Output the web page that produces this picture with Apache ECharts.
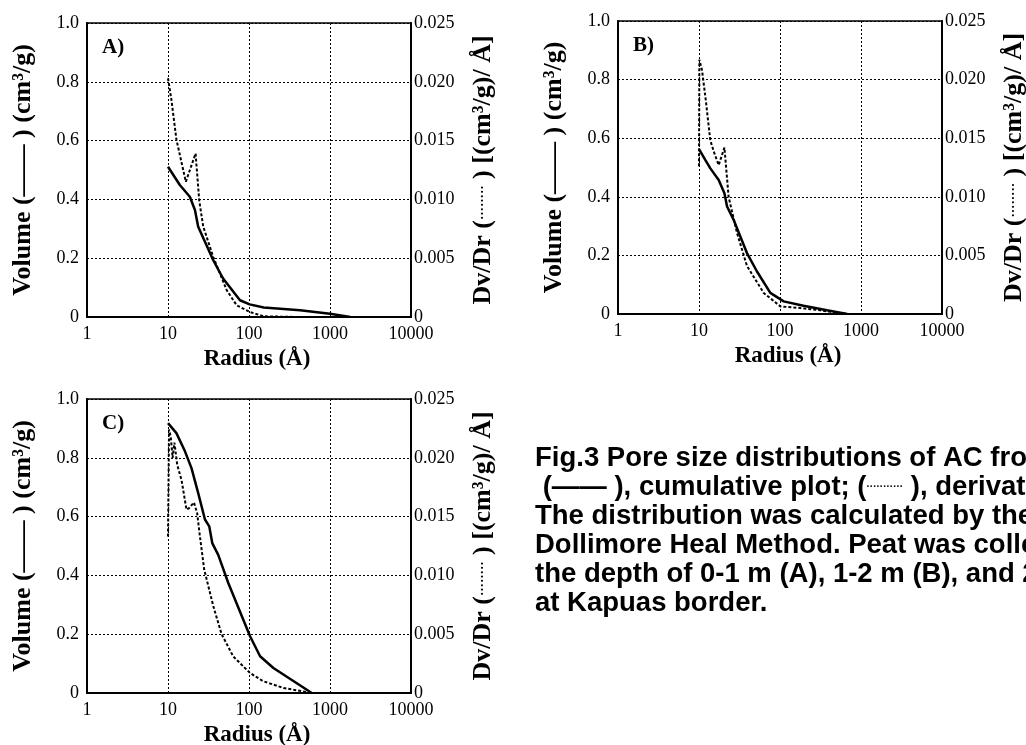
<!DOCTYPE html>
<html>
<head>
<meta charset="utf-8">
<script src="https://cdn.jsdelivr.net/npm/echarts@6/dist/echarts.min.js"></script>
<style>
html,body{margin:0;padding:0;background:#fff;}
#chart{width:1026px;height:745px;}
</style>
</head>
<body>
<div id="chart"></div>
<script>
// ---- Data (radius in Å, volume in cm3/g, derivative in (cm3/g)/Å) ----
const radiusVolA = [10, 14.0, 18.6, 21.5, 23.6, 36.2, 47.9, 77.4, 102, 152, 427, 1000, 1780];
const volumeA    = [0.511, 0.449, 0.409, 0.364, 0.307, 0.193, 0.131, 0.057, 0.043, 0.032, 0.023, 0.011, 0];
const radiusDerA = [10, 11.0, 12.7, 16.6, 21.9, 24.3, 27.2, 36.2, 52.9, 70.3, 102, 152, 400, 1000];
const derivA     = [0.0203, 0.0185, 0.0151, 0.0115, 0.0139, 0.0099, 0.0077, 0.0051, 0.0023, 0.0010, 0.00043, 0.00006, 0, 0];

const radiusVolB = [10, 12.0, 13.8, 17.5, 20.6, 22.2, 26.8, 39.1, 52.0, 76.0, 111, 195, 380, 675];
const volumeB    = [0.563, 0.525, 0.497, 0.457, 0.412, 0.367, 0.321, 0.208, 0.145, 0.072, 0.043, 0.028, 0.0125, 0];
const radiusDerB = [10, 10.1, 10.9, 12.1, 13.8, 15.5, 17.5, 20.6, 23.2, 29.5, 39.1, 62.9, 101, 178, 316, 675];
const derivB     = [0.0126, 0.0217, 0.0208, 0.0183, 0.0148, 0.0137, 0.0127, 0.0142, 0.0100, 0.0069, 0.0041, 0.0018, 0.00065, 0.00051, 0.00031, 0];

const radiusVolC = [10, 12.7, 16.2, 19.5, 23.6, 28.6, 32.3, 35.2, 41.7, 55.5, 103, 137, 200, 596];
const volumeC    = [0.918, 0.884, 0.822, 0.765, 0.680, 0.590, 0.567, 0.510, 0.470, 0.374, 0.193, 0.125, 0.085, 0];
const radiusDerC = [10, 10.3, 10.8, 11.4, 12.0, 13.0, 14.7, 16.9, 18.1, 20.9, 22.9, 24.8, 28.0, 36.2, 45.9, 64.0, 103, 150, 266, 596];
const derivC     = [0.0133, 0.0224, 0.0218, 0.0200, 0.0213, 0.0194, 0.0181, 0.0156, 0.0157, 0.0162, 0.0153, 0.0133, 0.0105, 0.0074, 0.0050, 0.0031, 0.0017, 0.0010, 0.00043, 0];

const xTicks = [1, 10, 100, 1000, 10000];
const panelLabels = ['A)', 'B)', 'C)'];
const leftAxisName = 'Volume (\u2014\u2014 ) (cm\u00B3/g)';
const rightAxisName = 'Dv/Dr ({s|\u00B7\u00B7\u00B7\u00B7\u00B7\u00B7\u00B7\u00B7} ) [(cm\u00B3/g)/ \u00C5]';
const xAxisName = 'Radius (\u00C5)';
const captionLines = [
  'Fig.3 Pore size distributions of AC from peat',
  ' (\u2014\u2014 ), cumulative plot; ({s|\u00B7\u00B7\u00B7\u00B7\u00B7\u00B7\u00B7\u00B7\u00B7\u00B7\u00B7} ), derivative plot.',
  'The distribution was calculated by the',
  'Dollimore Heal Method. Peat was collected at',
  'the depth of 0-1 m (A), 1-2 m (B), and 2-3 m (C)',
  'at Kapuas border.'
];

// ---- Layout ----
const serif = 'Liberation Serif';
const grids = [
  {left: 87, top: 23, width: 324, height: 294},
  {left: 618, top: 21, width: 324, height: 293},
  {left: 87, top: 399, width: 324, height: 294}
];
const zip = (xs, ys) => xs.map((x, i) => [x, ys[i]]);
const volData = [zip(radiusVolA, volumeA), zip(radiusVolB, volumeB), zip(radiusVolC, volumeC)];
const derData = [zip(radiusDerA, derivA), zip(radiusDerB, derivB), zip(radiusDerC, derivC)];

const dotted = {type: [2, 2], color: '#000', width: 1};
const gridOpt = [], xAxes = [], yAxes = [], series = [], graphics = [];
const yNameStyle = {
  fontFamily: serif, fontWeight: 'bold', fontSize: 26, color: '#000',
  rich: {s: {fontFamily: serif, fontWeight: 'bold', fontSize: 13, color: '#000', verticalAlign: 'middle'}}
};

grids.forEach((g, i) => {
  gridOpt.push(Object.assign({show: true, borderColor: '#000', borderWidth: 1.5,
    backgroundColor: 'transparent', containLabel: false, outerBoundsMode: 'none'}, g));
  xAxes.push({
    type: 'log', logBase: 10, min: xTicks[0], max: xTicks[xTicks.length - 1], gridIndex: i,
    name: xAxisName, nameLocation: 'middle', nameGap: 31,
    nameTextStyle: {fontFamily: serif, fontWeight: 'bold', fontSize: 23, color: '#000', padding: [0, 0, 0, 16]},
    axisLine: {lineStyle: {color: '#000', width: 2}},
    axisTick: {show: false},
    axisLabel: {fontFamily: serif, fontSize: 18, color: '#000', margin: 8,
      formatter: v => String(Math.round(v))},
    splitLine: {show: true, lineStyle: dotted}
  });
  yAxes.push({
    type: 'value', gridIndex: i, position: 'left', min: 0, max: 1, interval: 0.2,
    name: leftAxisName, nameLocation: 'middle', nameGap: 51, nameRotate: 90,
    nameTextStyle: yNameStyle,
    axisLine: {show: true, lineStyle: {color: '#000', width: 2}},
    axisTick: {show: false},
    axisLabel: {fontFamily: serif, fontSize: 18, color: '#000', margin: 8,
      formatter: v => (v === 0 ? '0' : v.toFixed(1))},
    splitLine: {show: true, lineStyle: dotted}
  });
  yAxes.push({
    type: 'value', gridIndex: i, position: 'right', min: 0, max: 0.025, interval: 0.005,
    name: rightAxisName, nameLocation: 'middle', nameGap: 59, nameRotate: 90,
    nameTextStyle: yNameStyle,
    axisLine: {show: true, lineStyle: {color: '#000', width: 2}},
    axisTick: {show: false},
    axisLabel: {fontFamily: serif, fontSize: 18, color: '#000', margin: 3,
      formatter: v => (v === 0 ? '0' : v.toFixed(3))},
    splitLine: {show: false}
  });
  series.push({
    type: 'line', xAxisIndex: i, yAxisIndex: 2 * i, data: volData[i],
    showSymbol: false, symbol: 'none', z: 3,
    lineStyle: {color: '#000', width: 2.5, type: 'solid'}
  });
  series.push({
    type: 'line', xAxisIndex: i, yAxisIndex: 2 * i + 1, data: derData[i],
    showSymbol: false, symbol: 'none', z: 4,
    lineStyle: {color: '#000', width: 2, type: [3, 2]}
  });
  graphics.push({
    type: 'text', left: g.left + 15, top: g.top + 14,
    style: {text: panelLabels[i], fontFamily: serif, fontWeight: 'bold', fontSize: 21, fill: '#000'}
  });
});

captionLines.forEach((line, k) => {
  graphics.push({
    type: 'text', left: 535, top: 444 + k * 29,
    style: {
      text: line, fontFamily: 'Liberation Sans', fontWeight: 'bold', fontSize: 27.5, fill: '#000',
      rich: {s: {fontFamily: 'Liberation Sans', fontWeight: 'bold', fontSize: 10, fill: '#000', verticalAlign: 'middle'}}
    }
  });
});

const chart = echarts.init(document.getElementById('chart'), null, {renderer: 'canvas'});
chart.setOption({
  backgroundColor: '#fff',
  animation: false,
  grid: gridOpt,
  xAxis: xAxes,
  yAxis: yAxes,
  series: series,
  graphic: graphics
});
</script>
</body>
</html>
